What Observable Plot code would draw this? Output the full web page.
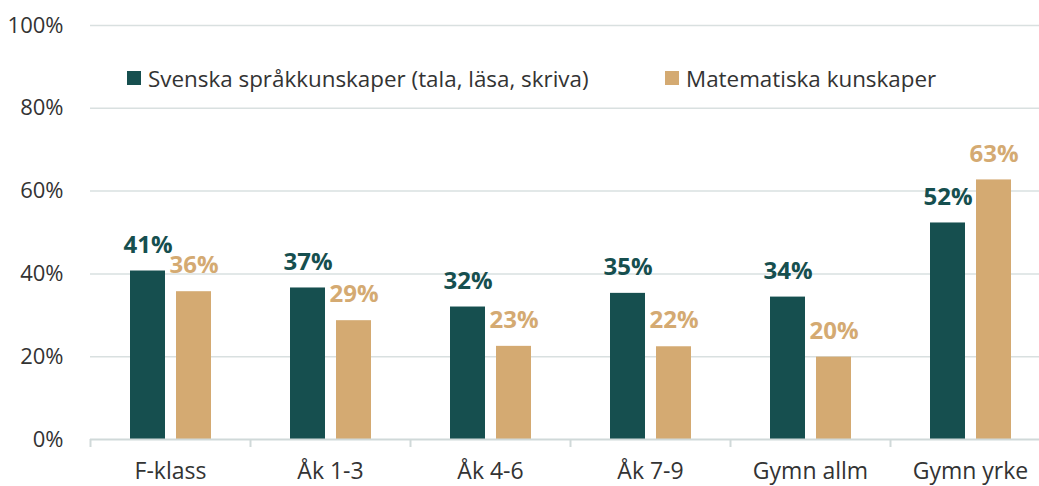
<!DOCTYPE html>
<html>
<head>
<meta charset="utf-8">
<script src="https://cdn.jsdelivr.net/npm/d3@7"></script>
<script src="https://cdn.jsdelivr.net/npm/@observablehq/plot@0.6"></script>
<style>
  html, body { margin: 0; padding: 0; background: #fff; }
  #wrap { position: relative; width: 1039px; height: 486px; overflow: hidden; font-family: "Open Sans", sans-serif; }
  .legend { position: absolute; top: 63px; left: 0; font-size: 22.4px; color: #333; white-space: nowrap; }
  .item { position: absolute; top: 0; display: flex; align-items: center; height: 30px; }
  .sw { width: 14px; height: 14px; margin-right: 7px; }
</style>
</head>
<body>
<div id="wrap"></div>
<script>
const categories = ["F-klass", "Åk 1-3", "Åk 4-6", "Åk 7-9", "Gymn allm", "Gymn yrke"];
const seriesNames = ["Svenska språkkunskaper (tala, läsa, skriva)", "Matematiska kunskaper"];
const sprak = [40.7, 36.6, 32.0, 35.3, 34.4, 52.3];
const matte = [35.7, 28.7, 22.5, 22.4, 19.9, 62.7];
const yTicks = [0, 20, 40, 60, 80, 100];
const colors = ["#164f4f", "#d4aa72"];

const fmt = v => Math.round(v) + "%";

const chart = Plot.plot({
  width: 1039,
  height: 486,
  marginLeft: 90,
  marginRight: 0,
  marginTop: 25,
  marginBottom: 47,
  style: { fontFamily: "Open Sans, sans-serif", fontSize: "22px", color: "#333", background: "#fff" },
  x: { domain: categories, range: [90, 1050], padding: 0 },
  y: { domain: [0, 100] },
  marks: [
    Plot.gridY(yTicks.filter(d => d > 0), { stroke: "#d9e0e0", strokeOpacity: 1, strokeWidth: 1.5 }),
    Plot.axisY(yTicks, { tickSize: 0, tickPadding: 27, tickFormat: d => d + "%", fill: "#333", fontSize: 22, label: null }),
    Plot.barY(categories, { x: categories, y: sprak, fill: colors[0], insetLeft: 40, insetRight: 85 }),
    Plot.barY(categories, { x: categories, y: matte, fill: colors[1], insetLeft: 86, insetRight: 39 }),
    Plot.ruleY([0], { stroke: "#d0d9d9", strokeWidth: 2 }),
    Plot.axisX({ tickSize: 8, dx: -80, tickFormat: () => "", stroke: "#d0d9d9", strokeWidth: 2, label: null }),
    Plot.axisX({ tickSize: 0, tickPadding: 23, fill: "#333", fontSize: 23, label: null }),
    Plot.text(categories, { x: categories, y: sprak, text: sprak.map(fmt), dx: -22.5, dy: -26, fill: colors[0], fontWeight: "bold", fontSize: 24, textAnchor: "middle" }),
    Plot.text(categories, { x: categories, y: matte, text: matte.map(fmt), dx: 23.5, dy: -26, fill: colors[1], fontWeight: "bold", fontSize: 24, textAnchor: "middle" })
  ]
});

const wrap = document.getElementById("wrap");
wrap.appendChild(chart);

const legend = document.createElement("div");
legend.className = "legend";
const lefts = [127, 665];
seriesNames.forEach((name, i) => {
  const item = document.createElement("div");
  item.className = "item";
  item.style.left = lefts[i] + "px";
  const sw = document.createElement("span");
  sw.className = "sw";
  sw.style.background = colors[i];
  const t = document.createElement("span");
  t.textContent = name;
  item.appendChild(sw);
  item.appendChild(t);
  legend.appendChild(item);
});
wrap.appendChild(legend);
</script>
</body>
</html>
